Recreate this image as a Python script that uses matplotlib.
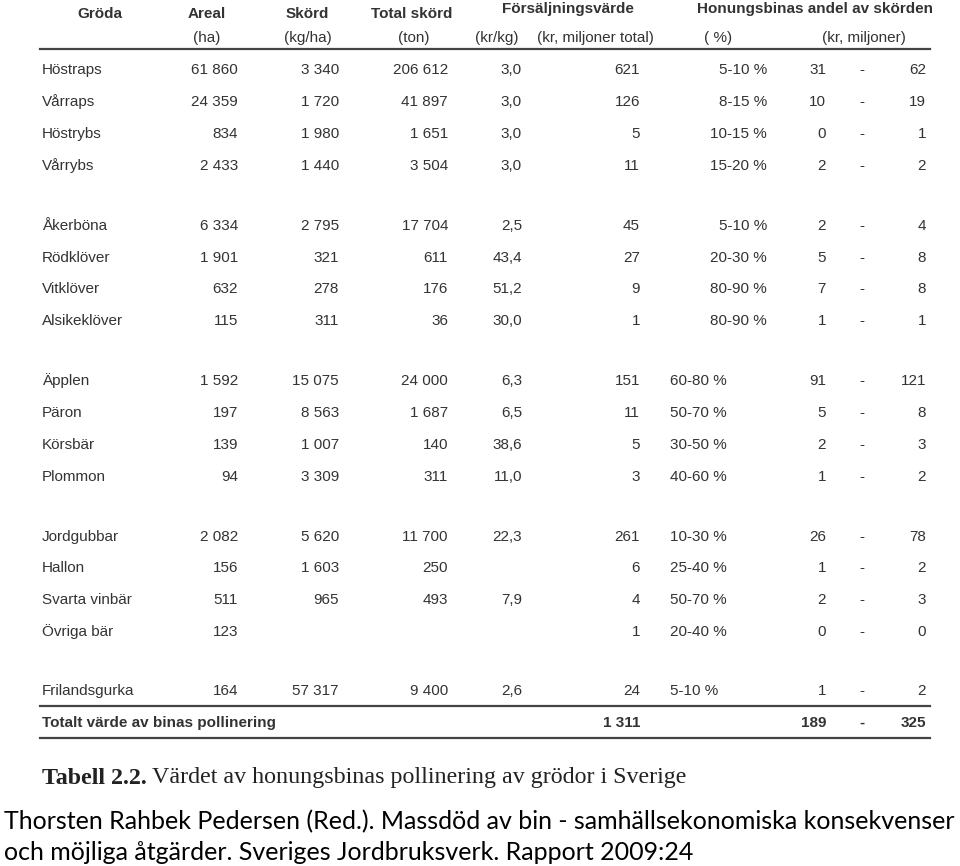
import matplotlib.pyplot as plt

# Table data
crops = ["Höstraps", "Vårraps", "Höstrybs", "Vårrybs",
         "Åkerböna", "Rödklöver", "Vitklöver", "Alsikeklöver",
         "Äpplen", "Päron", "Körsbär", "Plommon",
         "Jordgubbar", "Hallon", "Svarta vinbär", "Övriga bär",
         "Frilandsgurka"]
areal = ["61 860", "24 359", "834", "2 433",
         "6 334", "1 901", "632", "115",
         "1 592", "197", "139", "94",
         "2 082", "156", "511", "123",
         "164"]
skord = ["3 340", "1 720", "1 980", "1 440",
         "2 795", "321", "278", "311",
         "15 075", "8 563", "1 007", "3 309",
         "5 620", "1 603", "965", "",
         "57 317"]
total_skord = ["206 612", "41 897", "1 651", "3 504",
               "17 704", "611", "176", "36",
               "24 000", "1 687", "140", "311",
               "11 700", "250", "493", "",
               "9 400"]
kr_per_kg = ["3,0", "3,0", "3,0", "3,0",
             "2,5", "43,4", "51,2", "30,0",
             "6,3", "6,5", "38,6", "11,0",
             "22,3", "", "7,9", "",
             "2,6"]
kr_total = ["621", "126", "5", "11",
            "45", "27", "9", "1",
            "151", "11", "5", "3",
            "261", "6", "4", "1",
            "24"]
andel = ["5-10 %", "8-15 %", "10-15 %", "15-20 %",
         "5-10 %", "20-30 %", "80-90 %", "80-90 %",
         "60-80 %", "50-70 %", "30-50 %", "40-60 %",
         "10-30 %", "25-40 %", "50-70 %", "20-40 %",
         "5-10 %"]
low = [31, 10, 0, 2, 2, 5, 7, 1, 91, 5, 2, 1, 26, 1, 2, 0, 1]
high = [62, 19, 1, 2, 4, 8, 8, 1, 121, 8, 3, 2, 78, 2, 3, 0, 2]
total_label = "Totalt värde av binas pollinering"
total_kr = "1 311"
total_low, total_high = 189, 325

row_y = [70, 102, 134, 166, 226, 258, 289, 321, 381, 413, 445, 477,
         537, 568, 600, 632, 691]
total_y = 723

fig = plt.figure(figsize=(9.6, 8.66), dpi=100)
ax = fig.add_axes([0, 0, 1, 1])
ax.set_xlim(0, 960)
ax.set_ylim(866, 0)
ax.axis("off")

tf = "Liberation Sans"
col = "#333333"
fs = 11

# header
hdr = dict(fontsize=fs, color=col, fontfamily=tf, fontweight="bold", va="center", ha="center")
ax.text(100, 14, "Gröda", **hdr)
ax.text(207, 14, "Areal", **hdr)
ax.text(307, 14, "Skörd", **hdr)
ax.text(412, 14, "Total skörd", **hdr)
ax.text(568, 9, "Försäljningsvärde", **hdr)
ax.text(815, 9, "Honungsbinas andel av skörden", **hdr)
sub = dict(fontsize=fs, color=col, fontfamily=tf, va="center", ha="center")
ax.text(207, 38, "(ha)", **sub)
ax.text(308, 38, "(kg/ha)", **sub)
ax.text(414, 38, "(ton)", **sub)
ax.text(497, 38, "(kr/kg)", **sub)
ax.text(595, 38, "(kr, miljoner total)", **sub)
ax.text(718, 38, "( %)", **sub)
ax.text(864, 38, "(kr, miljoner)", **sub)

for yy in [49, 706, 738]:
    ax.plot([40, 930], [yy, yy], color="#444444", lw=1.6)

kw = dict(fontsize=fs, color=col, fontfamily=tf, va="center")
for i, y in enumerate(row_y):
    ax.text(42, y, crops[i], ha="left", **kw)
    ax.text(238, y, areal[i], ha="right", **kw)
    ax.text(339, y, skord[i], ha="right", **kw)
    ax.text(448, y, total_skord[i], ha="right", **kw)
    ax.text(522, y, kr_per_kg[i], ha="right", **kw)
    ax.text(640, y, kr_total[i], ha="right", **kw)
    if i < 8:
        ax.text(767, y, andel[i], ha="right", **kw)
    else:
        ax.text(670, y, andel[i], ha="left", **kw)
    ax.text(826, y, str(low[i]), ha="right", **kw)
    ax.text(862, y, "-", ha="center", **kw)
    ax.text(926, y, str(high[i]), ha="right", **kw)

bkw = dict(kw, fontweight="bold")
ax.text(42, total_y, total_label, ha="left", **bkw)
ax.text(640, total_y, total_kr, ha="right", **bkw)
ax.text(826, total_y, str(total_low), ha="right", **bkw)
ax.text(862, total_y, "-", ha="center", **bkw)
ax.text(926, total_y, str(total_high), ha="right", **bkw)

# caption
ax.text(42, 778, "Tabell 2.2.", fontsize=17.3, fontfamily="Liberation Serif",
        fontweight="bold", color="#222222", ha="left", va="center")
ax.text(152, 778, "Värdet av honungsbinas pollinering av grödor i Sverige",
        fontsize=17.3, fontfamily="Liberation Serif", color="#222222",
        ha="left", va="center")

ax.text(4, 822, "Thorsten Rahbek Pedersen (Red.). Massdöd av bin - samhällsekonomiska konsekvenser",
        fontsize=18, fontfamily="Lato", color="black", ha="left", va="center")
ax.text(4, 852, "och möjliga åtgärder. Sveriges Jordbruksverk. Rapport 2009:24",
        fontsize=18, fontfamily="Lato", color="black", ha="left", va="center")

fig.savefig("out.png", dpi=100, facecolor="white")
